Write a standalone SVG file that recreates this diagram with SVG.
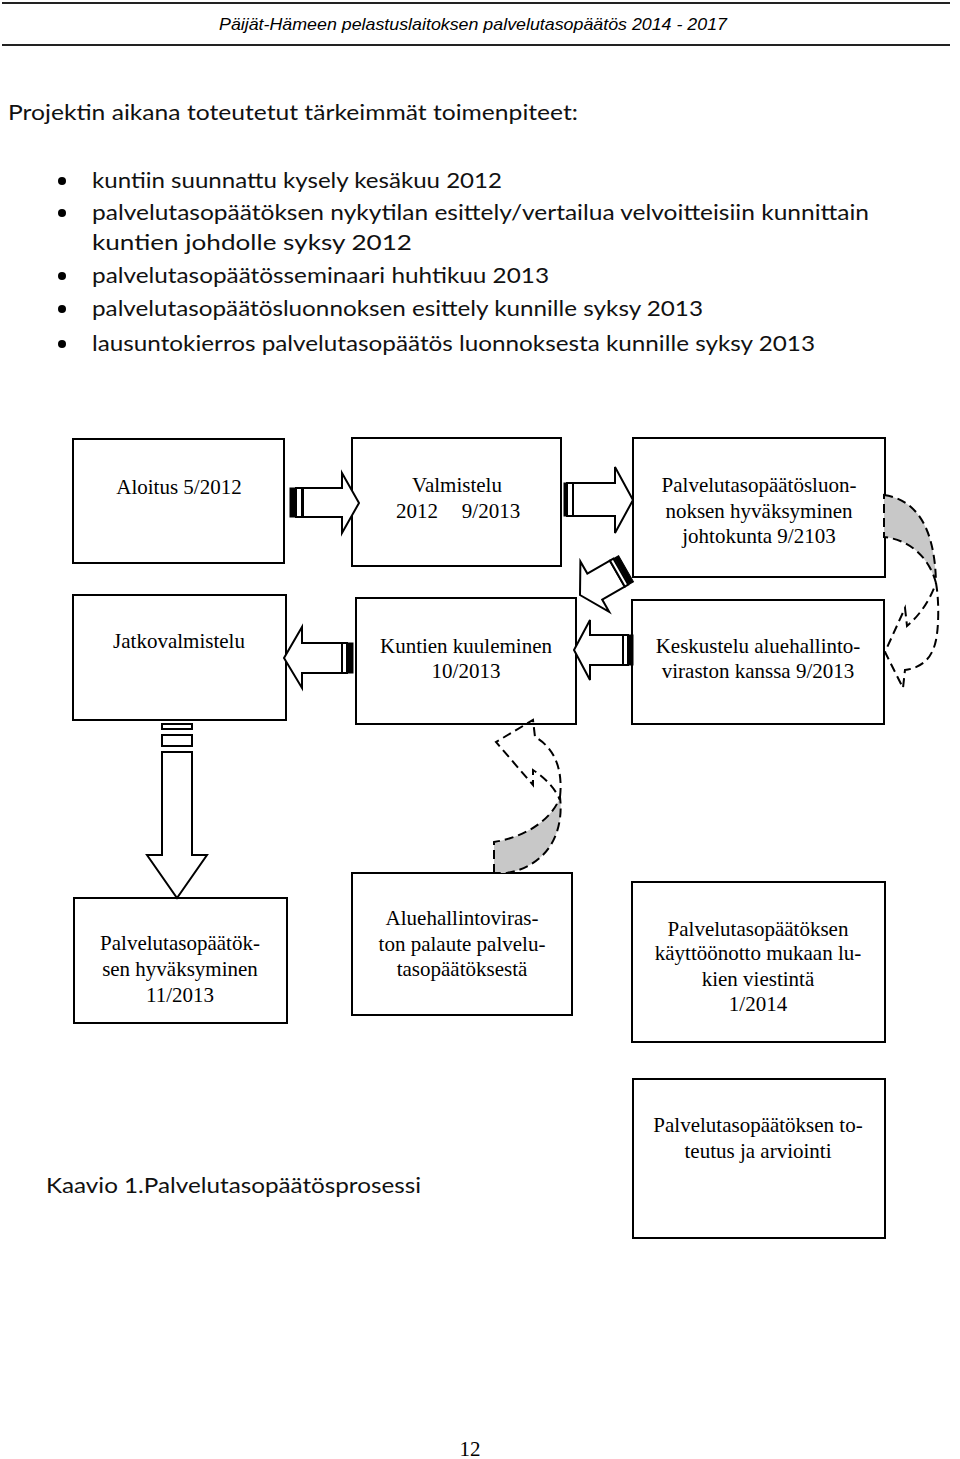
<svg xmlns="http://www.w3.org/2000/svg" width="960" height="1459" viewBox="0 0 960 1459">
<style>
.hdr{font-family:"Liberation Sans",Arial,sans-serif;font-style:italic;font-size:17px;fill:#000}
.body{font-family:Lato,"Open Sans","Liberation Sans",sans-serif;font-size:21px;fill:#111}
.box{fill:#fff;stroke:#000;stroke-width:2}
.bt{font-family:"Liberation Serif","Times New Roman",serif;font-size:21px;fill:#000;text-anchor:middle}
.arr{fill:#fff;stroke:#000;stroke-width:2;stroke-linejoin:miter}
.blk{fill:#000;stroke:#000;stroke-width:1}
.dash{fill:none;stroke:#000;stroke-width:2;stroke-dasharray:9 5}
.dashg{fill:#c8c8c8;stroke:#000;stroke-width:2;stroke-dasharray:9 5}
</style>
<rect width="960" height="1459" fill="#fff"/>
<g id="header">
<line x1="2" y1="3" x2="950" y2="3" stroke="#222" stroke-width="2"/>
<text class="hdr" x="219" y="30" textLength="508" lengthAdjust="spacingAndGlyphs">Päijät-Hämeen pelastuslaitoksen palvelutasopäätös 2014 - 2017</text>
<line x1="2" y1="45" x2="950" y2="45" stroke="#222" stroke-width="2"/>
</g>
<g id="intro">
<text class="body" x="8" y="120" textLength="570" lengthAdjust="spacingAndGlyphs">Projektin aikana toteutetut tärkeimmät toimenpiteet:</text>
<circle cx="62" cy="181" r="4"/>
<text class="body" x="92" y="188" textLength="410" lengthAdjust="spacingAndGlyphs">kuntiin suunnattu kysely kesäkuu 2012</text>
<circle cx="62" cy="213" r="4"/>
<text class="body" x="92" y="220" textLength="777" lengthAdjust="spacingAndGlyphs">palvelutasopäätöksen nykytilan esittely/vertailua velvoitteisiin kunnittain</text>
<text class="body" x="92" y="250" textLength="320" lengthAdjust="spacingAndGlyphs">kuntien johdolle syksy 2012</text>
<circle cx="62" cy="276" r="4"/>
<text class="body" x="92" y="283" textLength="457" lengthAdjust="spacingAndGlyphs">palvelutasopäätösseminaari huhtikuu 2013</text>
<circle cx="62" cy="309" r="4"/>
<text class="body" x="92" y="316" textLength="611" lengthAdjust="spacingAndGlyphs">palvelutasopäätösluonnoksen esittely kunnille syksy 2013</text>
<circle cx="62" cy="344" r="4"/>
<text class="body" x="92" y="351" textLength="723" lengthAdjust="spacingAndGlyphs">lausuntokierros palvelutasopäätös luonnoksesta kunnille syksy 2013</text>
</g>
<g id="n1"><rect class="box" x="73" y="439" width="211" height="124"/><text class="bt" x="179" y="494">Aloitus 5/2012</text></g>
<g id="n2"><rect class="box" x="352" y="438" width="209" height="128"/><text class="bt" x="457" y="492">Valmistelu</text><text class="bt" x="417" y="518">2012</text><text class="bt" x="491" y="518">9/2013</text></g>
<g id="n3"><rect class="box" x="633" y="438" width="252" height="139"/><text class="bt" x="759" y="492">Palvelutasopäätösluon-</text><text class="bt" x="759" y="518">noksen hyväksyminen</text><text class="bt" x="759" y="543">johtokunta 9/2103</text></g>
<g id="n4"><rect class="box" x="73" y="595" width="213" height="125"/><text class="bt" x="179" y="648">Jatkovalmistelu</text></g>
<g id="n5"><rect class="box" x="356" y="598" width="220" height="126"/><text class="bt" x="466" y="653">Kuntien kuuleminen</text><text class="bt" x="466" y="678">10/2013</text></g>
<g id="n6"><rect class="box" x="632" y="600" width="252" height="124"/><text class="bt" x="758" y="653">Keskustelu aluehallinto-</text><text class="bt" x="758" y="678">viraston kanssa 9/2013</text></g>
<g id="n7"><rect class="box" x="74" y="898" width="213" height="125"/><text class="bt" x="180" y="950">Palvelutasopäätök-</text><text class="bt" x="180" y="976">sen hyväksyminen</text><text class="bt" x="180" y="1002">11/2013</text></g>
<g id="n8"><rect class="box" x="352" y="873" width="220" height="142"/><text class="bt" x="462" y="925">Aluehallintoviras-</text><text class="bt" x="462" y="951">ton palaute palvelu-</text><text class="bt" x="462" y="976">tasopäätöksestä</text></g>
<g id="n9"><rect class="box" x="632" y="882" width="253" height="160"/><text class="bt" x="758" y="936">Palvelutasopäätöksen</text><text class="bt" x="758" y="960">käyttöönotto mukaan lu-</text><text class="bt" x="758" y="986">kien viestintä</text><text class="bt" x="758" y="1011">1/2014</text></g>
<g id="n10"><rect class="box" x="633" y="1079" width="252" height="159"/><text class="bt" x="758" y="1132">Palvelutasopäätöksen to-</text><text class="bt" x="758" y="1158">teutus ja arviointi</text></g>
<g id="connectors">
<g id="a1"><rect class="blk" x="290" y="488" width="5" height="29"/><rect class="arr" x="296" y="488" width="6" height="29"/><polygon class="arr" points="303,488 342,488 342,473 359,503 342,533 342,517 303,517"/></g>
<g id="a2"><rect class="blk" x="564" y="483" width="3" height="33"/><rect class="arr" x="567" y="483" width="6" height="33"/><polygon class="arr" points="573,483 615,483 615,467 633,500 615,533 615,516 573,516"/></g>
<g id="a3" transform="translate(580,595) rotate(-29.7)"><polygon class="arr" points="0,0 17,-29 17,-15 43,-15 43,15 17,15 17,29"/><rect class="arr" x="43" y="-15" width="4" height="30"/><rect class="blk" x="48" y="-15" width="5" height="30"/></g>
<g id="a4"><polygon class="arr" points="284,658 302,627 302,643 342,643 342,673 302,673 302,688"/><rect class="arr" x="342" y="643" width="5" height="30"/><rect class="blk" x="348" y="643" width="5" height="30"/></g>
<g id="a5"><polygon class="arr" points="574,650 590,620 590,635 623,635 623,665 590,665 590,680"/><rect class="arr" x="623" y="635" width="5" height="30"/><rect class="blk" x="628" y="635" width="5" height="30"/></g>
<g id="a6"><rect class="arr" x="162" y="724" width="30" height="5"/><rect class="arr" x="162" y="735" width="30" height="11"/><polygon class="arr" points="162,752 192,752 192,855 207,855 177,898 147,855 162,855"/></g>
<g id="c1"><path class="dashg" d="M884,495 C918,500 935,530 936,583 C930,560 912,540 884,537 Z"/><path class="dash" d="M936,583 C939,600 939,625 936,640 C932,660 920,668 905,670 L903,688 L885,652 L905,608 L907,626 C920,615 930,600 936,583"/></g>
<g id="c2"><path class="dashg" d="M494,873 L494,842 C525,837 552,820 560,797 C564,830 550,865 507,873 Z"/><path class="dash" d="M560,797 C563,770 555,748 535,737 L533,720 L496,742 L533,785 L533,770 C545,778 555,788 560,800"/></g>
</g>
<g id="caption"><text class="body" x="46" y="1193" textLength="375" lengthAdjust="spacingAndGlyphs">Kaavio 1.Palvelutasopäätösprosessi</text></g>
<g id="page"><text class="bt" x="470" y="1456" font-size="22">12</text></g>
</svg>
